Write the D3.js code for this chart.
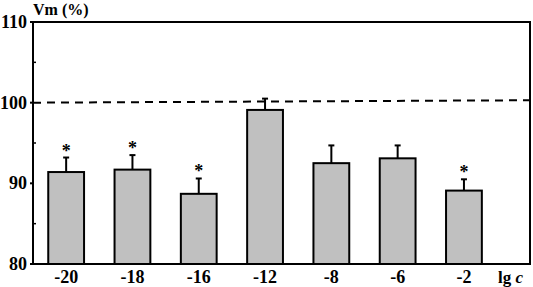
<!DOCTYPE html>
<html>
<head>
<meta charset="utf-8">
<script src="https://cdn.jsdelivr.net/npm/d3@7"></script>
<style>
  body { margin: 0; background: #fff; }
</style>
</head>
<body>
<div id="chart"></div>
<script>
const categories = ['-20', '-18', '-16', '-12', '-8', '-6', '-2'];
const values = [91.4, 91.7, 88.7, 99.1, 92.5, 93.1, 89.1];
const errors = [1.8, 1.8, 1.9, 1.4, 2.2, 1.6, 1.4];
const significant = [true, true, true, false, false, false, true];
const yTicks = [80, 90, 100, 110];
const yMinorTicks = [85, 95, 105];

const options = {
  width: 533,
  height: 287,
};

const font = '"Liberation Serif", "DejaVu Serif", "Times New Roman", serif';
const margin = { left: 33, right: 3, top: 22, bottom: 23 };
const plotRight = options.width - margin.right;
const plotBottom = options.height - margin.bottom;

const svg = d3.select('#chart')
  .append('svg')
  .attr('width', options.width)
  .attr('height', options.height)
  .attr('font-family', font)
  .attr('font-weight', 'bold');

const x = d3.scaleBand()
  .domain(categories)
  .range([margin.left, margin.left + 7 * 66.3])
  .paddingInner(0.46)
  .paddingOuter(0.23);

const y = d3.scaleLinear()
  .domain([80, 110])
  .range([plotBottom, margin.top]);

// frame
svg.append('rect')
  .attr('x', margin.left)
  .attr('y', margin.top)
  .attr('width', plotRight - margin.left)
  .attr('height', plotBottom - margin.top)
  .attr('fill', 'none')
  .attr('stroke', '#000')
  .attr('stroke-width', 2);

// y ticks
svg.selectAll('.major')
  .data(yTicks)
  .enter()
  .append('line')
  .attr('x1', margin.left - 3)
  .attr('x2', margin.left)
  .attr('y1', d => y(d))
  .attr('y2', d => y(d))
  .attr('stroke', '#000')
  .attr('stroke-width', 2);

svg.selectAll('.minor')
  .data(yMinorTicks)
  .enter()
  .append('line')
  .attr('x1', margin.left)
  .attr('x2', margin.left + 3)
  .attr('y1', d => y(d))
  .attr('y2', d => y(d))
  .attr('stroke', '#000')
  .attr('stroke-width', 1.5);

svg.selectAll('.ylab')
  .data(yTicks)
  .enter()
  .append('text')
  .attr('x', margin.left - 6)
  .attr('y', d => y(d) + 6)
  .attr('text-anchor', 'end')
  .attr('font-size', '18px')
  .attr('fill', '#000')
  .text(d => d);

svg.append('text')
  .attr('x', margin.left)
  .attr('y', 15)
  .attr('font-size', '16px')
  .attr('fill', '#000')
  .text('Vm (%)');

// reference line at 100%
svg.append('line')
  .attr('x1', margin.left)
  .attr('x2', plotRight)
  .attr('y1', y(100))
  .attr('y2', y(100.3))
  .attr('stroke', '#000')
  .attr('stroke-width', 2)
  .attr('stroke-dasharray', '8,6');

// bars
svg.selectAll('.bar')
  .data(values)
  .enter()
  .append('rect')
  .attr('x', (d, i) => x(categories[i]))
  .attr('y', d => y(d))
  .attr('width', x.bandwidth())
  .attr('height', d => plotBottom - y(d))
  .attr('fill', '#c0c0c0')
  .attr('stroke', '#000')
  .attr('stroke-width', 2);

// error bars
const cx = i => x(categories[i]) + x.bandwidth() / 2;

svg.selectAll('.err')
  .data(values)
  .enter()
  .append('line')
  .attr('x1', (d, i) => cx(i))
  .attr('x2', (d, i) => cx(i))
  .attr('y1', d => y(d))
  .attr('y2', (d, i) => y(d + errors[i]))
  .attr('stroke', '#000')
  .attr('stroke-width', 2);

svg.selectAll('.cap')
  .data(values)
  .enter()
  .append('line')
  .attr('x1', (d, i) => cx(i) - 3)
  .attr('x2', (d, i) => cx(i) + 3)
  .attr('y1', (d, i) => y(d + errors[i]))
  .attr('y2', (d, i) => y(d + errors[i]))
  .attr('stroke', '#000')
  .attr('stroke-width', 2);

// significance stars
const starIdx = d3.range(values.length).filter(i => significant[i]);
svg.selectAll('.star')
  .data(starIdx)
  .enter()
  .append('text')
  .attr('x', i => cx(i))
  .attr('y', i => y(values[i] + errors[i]) - 1)
  .attr('text-anchor', 'middle')
  .attr('font-size', '18px')
  .attr('fill', '#000')
  .text('*');

// x labels
svg.selectAll('.xlab')
  .data(categories)
  .enter()
  .append('text')
  .attr('x', d => x(d) + x.bandwidth() / 2)
  .attr('y', plotBottom + 19)
  .attr('text-anchor', 'middle')
  .attr('font-size', '18px')
  .attr('fill', '#000')
  .text(d => d);

const axisLabel = svg.append('text')
  .attr('x', 498)
  .attr('y', plotBottom + 19)
  .attr('font-size', '17px')
  .attr('fill', '#000');
axisLabel.append('tspan').text('lg ');
axisLabel.append('tspan').attr('font-style', 'italic').text('c');
</script>
</body>
</html>
